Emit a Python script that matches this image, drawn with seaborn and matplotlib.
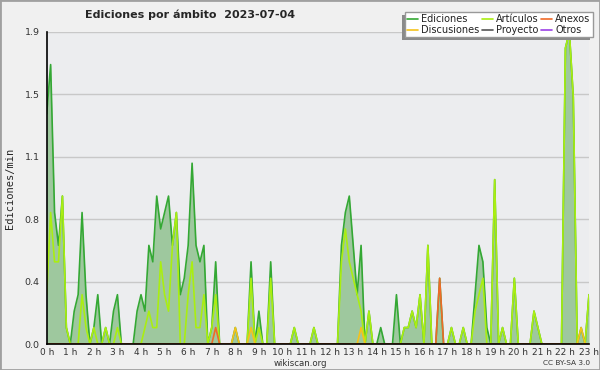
import matplotlib
matplotlib.use("Agg")

import matplotlib.pyplot as plt
import matplotlib.ticker as mticker
from matplotlib.patches import Rectangle
import numpy as np
import pandas as pd
import seaborn as sns

# edits per minute, one value every 10 minutes from 00:00 to 23:00
ediciones = [
    1.4, 1.7, 0.8, 0.6, 0.9, 0.1, 0, 0.2, 0.3, 0.8, 0.3, 0,
    0.1, 0.3, 0, 0.1, 0, 0.2, 0.3, 0, 0, 0, 0, 0.2,
    0.3, 0.2, 0.6, 0.5, 0.9, 0.7, 0.8, 0.9, 0.6, 0.8, 0.3, 0.4,
    0.6, 1.1, 0.6, 0.5, 0.6, 0, 0.1, 0.5, 0, 0, 0, 0,
    0.1, 0, 0, 0, 0.5, 0, 0.2, 0, 0, 0.5, 0, 0,
    0, 0, 0, 0.1, 0, 0, 0, 0, 0.1, 0, 0, 0,
    0, 0, 0, 0.6, 0.8, 0.9, 0.6, 0.3, 0.6, 0, 0.2, 0,
    0, 0.1, 0, 0, 0, 0.3, 0, 0.1, 0.1, 0.2, 0.1, 0.3,
    0, 0.6, 0, 0, 0.4, 0, 0, 0.1, 0, 0, 0.1, 0,
    0, 0.3, 0.6, 0.5, 0.1, 0, 1.0, 0, 0.1, 0, 0, 0.4,
    0, 0, 0, 0, 0.2, 0.1, 0, 0, 0, 0, 0, 0,
    1.8, 1.9, 1.5, 0, 0.1, 0, 0.3,
]
articulos = [
    0.3, 0.8, 0.5, 0.5, 0.9, 0.1, 0, 0, 0, 0.3, 0.1, 0,
    0.1, 0, 0, 0.1, 0, 0, 0.1, 0, 0, 0, 0, 0,
    0, 0.1, 0.2, 0.1, 0.1, 0.5, 0.3, 0.2, 0.6, 0.8, 0, 0,
    0.3, 0.5, 0.1, 0.1, 0.3, 0, 0.1, 0.3, 0, 0, 0, 0,
    0, 0, 0, 0, 0.4, 0, 0.1, 0, 0, 0.4, 0, 0,
    0, 0, 0, 0.1, 0, 0, 0, 0, 0.1, 0, 0, 0,
    0, 0, 0, 0.5, 0.7, 0.5, 0.4, 0.3, 0.2, 0, 0.2, 0,
    0, 0, 0, 0, 0, 0, 0, 0.1, 0.1, 0.2, 0.1, 0.3,
    0, 0.6, 0, 0, 0, 0, 0, 0.1, 0, 0, 0.1, 0,
    0, 0.2, 0.3, 0.4, 0, 0, 1.0, 0, 0.1, 0, 0, 0.4,
    0, 0, 0, 0, 0.2, 0.1, 0, 0, 0, 0, 0, 0,
    1.8, 1.9, 1.5, 0, 0, 0, 0.3,
]
# sparse series: (slot index, value)
discusiones_pos = [48, 52, 80, 136]
discusiones_val = [0.1, 0.1, 0.1, 0.1]
anexos_pos = [43, 100]
anexos_val = [0.1, 0.4]

hour_labels = [f"{h} h" for h in range(24)]

n = len(ediciones)
hours = np.arange(n) / 6.0

def sparse(pos, val):
    s = np.zeros(n)
    s[pos] = val
    return s

df = pd.DataFrame({
    "hora": hours,
    "Ediciones": ediciones,
    "Artículos": articulos,
    "Discusiones": sparse(discusiones_pos, discusiones_val),
    "Anexos": sparse(anexos_pos, anexos_val),
    "Proyecto": np.zeros(n),
    "Otros": np.zeros(n),
})

colors = {
    "Ediciones": "#34a834",
    "Discusiones": "#f5c21b",
    "Artículos": "#aaee11",
    "Proyecto": "#555555",
    "Anexos": "#f06a28",
    "Otros": "#9b3fe6",
}

sns.set_style("white")
plt.rcParams["font.family"] = ["DejaVu Sans"]

fig = plt.figure(figsize=(6, 3.7), dpi=100, facecolor="#f0f0f0")
ax = fig.add_axes([46.7 / 600, 26 / 370, (589 - 46.7) / 600, (344 - 31.7) / 370])
ax.set_facecolor("#ecedef")

ax.fill_between(df["hora"], df["Ediciones"], color="#9ec89e", lw=0, zorder=1)

order = ["Otros", "Proyecto", "Ediciones", "Artículos", "Discusiones", "Anexos"]
handles = {}
for name in order:
    sns.lineplot(x="hora", y=name, data=df, ax=ax, color=colors[name],
                 linewidth=1.2, label=name, legend=False)
    handles[name] = ax.lines[-1]

ymax = 1.9
ax.set_ylim(0, ymax)
ax.set_xlim(0, hours[-1])
yt = np.linspace(0, ymax, 6)
ax.set_yticks(yt)
ax.yaxis.set_major_formatter(mticker.FormatStrFormatter("%.1f"))
ax.yaxis.set_minor_locator(mticker.MultipleLocator(ymax / 20))
ax.grid(axis="y", color="#c8c8c8", linewidth=1)
ax.set_axisbelow(True)

ax.set_xticks(range(24))
ax.set_xticklabels(hour_labels)
ax.xaxis.set_minor_locator(mticker.MultipleLocator(1 / 6))

ax.tick_params(axis="both", which="major", direction="out", length=4, width=1,
               color="black", labelsize=6.8, labelcolor="#333333", pad=1)
ax.tick_params(axis="both", which="minor", direction="out", length=2.5, width=1,
               color="black")
ax.tick_params(axis="x", which="major", length=3, pad=0, labelsize=6.5)

for side in ["top", "right"]:
    ax.spines[side].set_visible(False)
for side in ["left", "bottom"]:
    ax.spines[side].set_color("black")
    ax.spines[side].set_linewidth(1.2)
ax.set_xlabel("")
ax.set_ylabel("")

leg_names = ["Ediciones", "Discusiones", "Artículos", "Proyecto", "Anexos", "Otros"]
leg = fig.legend([handles[k] for k in leg_names], leg_names, ncol=3,
                 loc="upper right", bbox_to_anchor=(593 / 600, 1 - 12 / 370),
                 fontsize=7, frameon=True, fancybox=False, shadow=False,
                 handlelength=1.1, handletextpad=0.35, columnspacing=0.25,
                 labelspacing=0.05, borderpad=0.25, borderaxespad=0)
leg.get_frame().set_edgecolor("#999999")
leg.get_frame().set_linewidth(1)
leg.get_frame().set_alpha(1)
leg.set_zorder(5)
for t in leg.get_texts():
    t.set_color("#222222")

fig.text(85 / 600, 1 - 15 / 370, "Ediciones por ámbito  2023-07-04",
         fontsize=8, fontweight="bold", va="center", ha="left")
fig.text(10 / 600, 1 - 188 / 370, "Ediciones/min", rotation=90,
         family="DejaVu Sans Mono", fontsize=7.5, va="center", ha="center")
fig.text(300 / 600, 1 - 363.5 / 370, "wikiscan.org", fontsize=6.2,
         color="#333333", ha="center", va="center")
fig.text(590 / 600, 1 - 363 / 370, "CC BY-SA 3.0", fontsize=5.3,
         color="#333333", ha="right", va="center")

# grey drop shadow behind the legend, offset to the lower left
fig.canvas.draw()
bb = leg.get_window_extent().transformed(fig.transFigure.inverted())
fig.patches.append(Rectangle((bb.x0 - 3 / 600, bb.y0 - 3 / 370), bb.width, bb.height,
                             transform=fig.transFigure, facecolor="#8a8a8a",
                             edgecolor="none", zorder=4))

fig.patches.append(Rectangle((0, 0), 1, 1, transform=fig.transFigure,
                             fill=False, edgecolor="#a0a0a0", linewidth=2))

fig.savefig("out.png", dpi=100, facecolor=fig.get_facecolor())
